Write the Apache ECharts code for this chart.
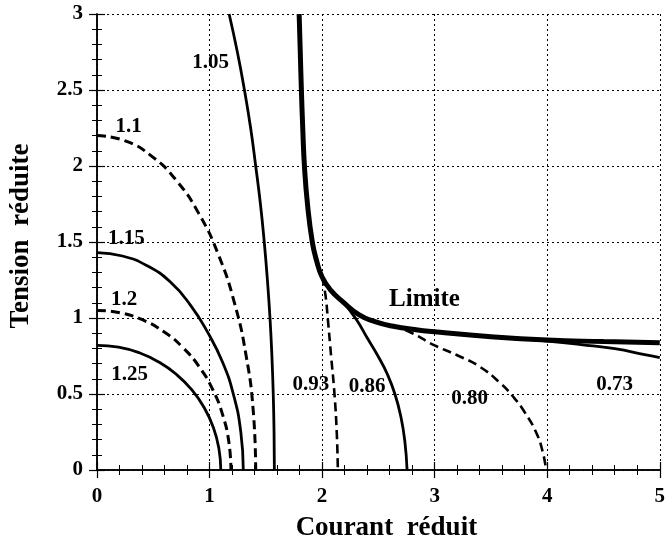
<!DOCTYPE html>
<html>
<head>
<meta charset="utf-8">
<script src="https://cdn.jsdelivr.net/npm/echarts@6/dist/echarts.min.js"></script>
<style>html,body{margin:0;padding:0;background:#fff}#c{width:668px;height:549px}</style>
</head>
<body>
<div id="c"></div>
<script>
// ---- data ----
var xTicks = [0, 1, 2, 3, 4, 5];
var yTicks = [0, 0.5, 1, 1.5, 2, 2.5, 3];

var c125 = [[0,0.82],[0.191,0.808],[0.376,0.771],[0.55,0.71],[0.707,0.628],[0.843,0.527],[0.953,0.41],[1.034,0.28],[1.083,0.142],[1.1,0]];
var c120 = [[0,1.05],[0.207,1.034],[0.407,0.987],[0.595,0.909],[0.765,0.804],[0.912,0.675],[1.031,0.525],[1.118,0.359],[1.172,0.182],[1.19,0]];
var c115 = [[0,1.43],[0.226,1.408],[0.445,1.344],[0.65,1.238],[0.83,1.085],[0.98,0.91],[1.115,0.71],[1.215,0.489],[1.278,0.248],[1.3,0]];
var c110 = [[0,2.2],[0.245,2.167],[0.482,2.067],[0.705,1.905],[0.906,1.685],[1.08,1.414],[1.221,1.1],[1.325,0.752],[1.389,0.382],[1.41,0]];
var c105 = [[1.174,3],[1.247,2.75],[1.31,2.5],[1.365,2.25],[1.41,2.0],[1.452,1.75],[1.486,1.5],[1.514,1.25],[1.537,1.0],[1.554,0.75],[1.566,0.5],[1.573,0.25],[1.576,0]];
var cLim = [[1.796,3],[1.806,2.75],[1.816,2.5],[1.828,2.25],[1.843,2.0],[1.87,1.75],[1.913,1.5],[1.95,1.38],[2.0,1.27],[2.08,1.18],[2.18,1.11],[2.33,1.02],[2.47,0.976],[2.62,0.947],[2.85,0.921],[3,0.91],[3.5,0.877],[4,0.855],[4.5,0.845],[5,0.837]];
var c093 = [[2.0,1.27],[2.03,1.15],[2.05,1.0],[2.08,0.75],[2.11,0.5],[2.13,0.25],[2.14,0]];
var c086 = [[2.08,1.18],[2.18,1.11],[2.3,0.995],[2.4,0.87],[2.5,0.745],[2.58,0.63],[2.647,0.5],[2.7,0.35],[2.735,0.19],[2.755,0]];
var c080 = [[2.62,0.947],[2.75,0.918],[3,0.82],[3.2,0.755],[3.4,0.68],[3.585,0.57],[3.7,0.48],[3.8,0.38],[3.9,0.25],[3.96,0.12],[3.99,0]];
var c073 = [[3.5,0.877],[4,0.848],[4.3,0.825],[4.6,0.798],[4.877,0.757],[5,0.74]];

var labelTexts = ['1.05','1.1','1.15','1.2','1.25','0.93','0.86','0.80','0.73'];
var labelX = [1.01, 0.28, 0.26, 0.24, 0.29, 1.9, 2.40, 3.31, 4.6];
var labelY = [2.68, 2.26, 1.52, 1.12, 0.63, 0.56, 0.55, 0.47, 0.56];
var limiteText = 'Limite';
var limiteX = 2.91, limiteY = 1.12;

// ---- chart ----
var FONT = '"Liberation Serif", "DejaVu Serif", serif';
var chart = echarts.init(document.getElementById('c'), null, {renderer: 'canvas'});

function curve(data, dashed, width) {
  return {
    type: 'line', data: data, smooth: 0.5, symbol: 'none', silent: true,
    lineStyle: {color: '#000', width: width || 2.8, type: dashed ? [9, 5] : 'solid', cap: 'butt'},
    z: 3
  };
}

var labelData = labelTexts.map(function (t, i) { return [labelX[i], labelY[i], t]; });

var axisLineStyle = {show: true, lineStyle: {color: '#000', width: 1.5}};
var tickStyle = {show: true, inside: true, length: 8, lineStyle: {color: '#000', width: 1.2}};
var minorStyle = {show: true, splitNumber: 5, length: 5, lineStyle: {color: '#000', width: 1}};
var gridLine = {show: true, lineStyle: {color: '#000', width: 1, type: [2, 3]}};

var option = {
  backgroundColor: '#fff',
  animation: false,
  grid: {left: 96, right: 4, top: 14, bottom: 79},
  xAxis: [{
    type: 'value', min: xTicks[0], max: xTicks[xTicks.length - 1], interval: 1,
    axisLine: axisLineStyle, axisTick: tickStyle, minorTick: minorStyle,
    axisLabel: {color: '#000', fontFamily: FONT, fontWeight: 'bold', fontSize: 21, margin: 16},
    splitLine: gridLine,
    name: 'Courant  réduit', nameLocation: 'middle', nameGap: 45,
    nameTextStyle: {color: '#000', fontFamily: FONT, fontWeight: 'bold', fontSize: 27, padding: [0, 0, 0, 16]}
  }, {
    type: 'value', position: 'top', min: 0, max: 5, interval: 1,
    axisLine: axisLineStyle, axisTick: tickStyle, minorTick: minorStyle,
    axisLabel: {show: false}, splitLine: {show: false}
  }],
  yAxis: [{
    type: 'value', min: yTicks[0], max: yTicks[yTicks.length - 1], interval: 0.5,
    axisLine: axisLineStyle, axisTick: tickStyle, minorTick: minorStyle,
    axisLabel: {color: '#000', fontFamily: FONT, fontWeight: 'bold', fontSize: 21, margin: 14},
    splitLine: gridLine,
    name: 'Tension  réduite', nameLocation: 'middle', nameGap: 62, nameRotate: 90,
    nameTextStyle: {color: '#000', fontFamily: FONT, fontWeight: 'bold', fontSize: 27, padding: [0, 0, 0, 12]}
  }, {
    type: 'value', position: 'right', min: 0, max: 3, interval: 0.5,
    axisLine: axisLineStyle, axisTick: tickStyle, minorTick: minorStyle,
    axisLabel: {show: false}, splitLine: {show: false}
  }],
  series: [
    curve(c125, false),
    curve(c120, true, 3),
    curve(c115, false),
    curve(c110, true, 3),
    curve(c105, false),
    curve(c093, true, 2.6),
    curve(c086, false),
    curve(c080, true, 2.6),
    curve(c073, false),
    curve(cLim, false, 5),
    {
      type: 'scatter', symbolSize: 0, silent: true, z: 5,
      itemStyle: {color: 'transparent', opacity: 1},
      data: labelData,
      label: {show: true, position: 'inside', formatter: function (p) { return p.value[2]; },
        color: '#000', textBorderWidth: 0, fontFamily: FONT, fontWeight: 'bold', fontSize: 21}
    },
    {
      type: 'scatter', symbolSize: 0, silent: true, z: 5,
      itemStyle: {color: 'transparent', opacity: 1},
      data: [[limiteX, limiteY, limiteText]],
      label: {show: true, position: 'inside', formatter: function (p) { return p.value[2]; },
        color: '#000', textBorderWidth: 0, fontFamily: FONT, fontWeight: 'bold', fontSize: 25}
    }
  ]
};
chart.setOption(option);
</script>
</body>
</html>
